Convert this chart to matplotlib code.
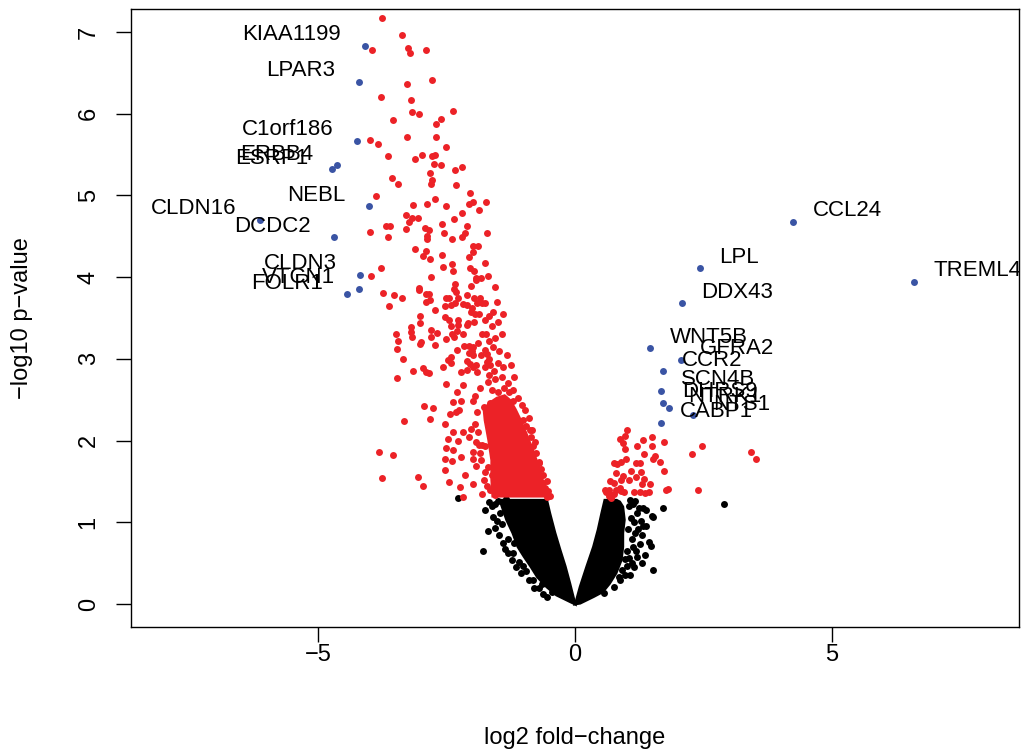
import matplotlib
matplotlib.use("Agg")
import matplotlib.pyplot as plt
import numpy as np

plt.rcParams["font.family"] = ["Liberation Sans", "DejaVu Sans"]

RED = "#ec2227"
BLUE = "#3a54a4"

# labelled genes (log2 fold-change, -log10 p-value)
genes = ["KIAA1199", "LPAR3", "C1orf186", "ERBB4", "ESRP1", "NEBL", "CLDN16",
         "DCDC2", "CLDN3", "VTCN1", "FOLR1",
         "CCL24", "TREML4", "LPL", "DDX43", "WNT5B", "GFRA2", "CCR2", "SCN4B",
         "DHRS9", "NTRK1", "CABP1", "NTS1"]
gene_lfc = [-4.09, -4.21, -4.24, -4.64, -4.72, -4.01, -6.13,
            -4.68, -4.18, -4.20, -4.44,
            4.24, 6.60, 2.43, 2.08, 1.46, 2.06, 1.71, 1.68,
            1.71, 1.82, 1.67, 2.30]
gene_p = [6.83, 6.39, 5.67, 5.37, 5.32, 4.87, 4.70,
          4.49, 4.03, 3.86, 3.79,
          4.68, 3.94, 4.11, 3.68, 3.13, 2.99, 2.85, 2.61,
          2.46, 2.40, 2.22, 2.31]

# significant genes (p < 0.05)
red_pts = np.array([
    (-3.75, 7.17), (-3.36, 6.96), (-3.24, 6.81), (-3.21, 6.74), (-2.89, 6.78), (-3.95, 6.78),
    (-3.27, 6.37), (-2.79, 6.41), (-3.78, 6.21), (-3.20, 6.17), (-3.17, 6.02), (-3.04, 6.00),
    (-2.38, 6.03), (-2.61, 5.94), (-2.70, 5.88), (-3.54, 5.93), (-3.27, 5.71), (-2.71, 5.72),
    (-2.50, 5.59), (-3.63, 5.48), (-3.12, 5.45), (-2.97, 5.50), (-2.78, 5.48), (-2.72, 5.49),
    (-2.75, 5.39), (-2.60, 5.37), (-2.33, 5.31), (-2.19, 5.35), (-2.83, 5.27), (-2.78, 5.19),
    (-2.81, 5.14), (-3.56, 5.22), (-3.44, 5.14), (-2.32, 5.13), (-2.05, 5.03), (-2.73, 4.96),
    (-2.87, 4.90), (-3.15, 4.88), (-2.50, 4.87), (-2.07, 4.90), (-1.99, 4.92), (-1.74, 4.92),
    (-1.87, 4.82), (-2.19, 4.78), (-2.35, 4.71), (-3.29, 4.76), (-3.17, 4.72), (-3.06, 4.73),
    (-3.23, 4.67), (-3.68, 4.63), (-3.60, 4.63), (-3.63, 4.49), (-3.29, 4.59), (-2.91, 4.60),
    (-2.85, 4.58), (-2.87, 4.51), (-2.87, 4.47), (-2.59, 4.65), (-2.54, 4.54), (-2.39, 4.47),
    (-2.11, 4.63), (-2.14, 4.54), (-2.20, 4.49), (-1.72, 4.54), (-3.11, 4.35), (-2.89, 4.32),
    (-2.95, 4.26), (-2.82, 4.22), (-2.59, 4.27), (-2.40, 4.16), (-2.38, 4.08), (-2.57, 4.12),
    (-2.81, 4.00), (-3.77, 4.11), (-2.06, 4.25), (-1.98, 4.31), (-1.89, 4.38), (-1.98, 4.38),
    (-1.76, 4.17), (-2.04, 4.11), (-1.97, 4.07), (-1.92, 3.99), (-1.93, 3.97), (-1.82, 3.99),
    (-1.69, 4.02), (-1.56, 3.88), (-2.02, 3.89), (-2.33, 3.92), (-2.35, 3.86), (-2.31, 3.82),
    (-3.04, 3.87), (-3.04, 3.84), (-2.90, 3.80), (-2.85, 3.80), (-2.89, 3.70), (-2.82, 3.72),
    (-3.74, 3.81), (-3.52, 3.78), (-3.36, 3.75), (-3.62, 3.65), (-2.72, 3.60), (-2.51, 3.75),
    (-2.45, 3.75), (-2.52, 3.65), (-2.41, 3.66), (-2.33, 3.68), (-2.27, 3.74), (-2.11, 3.78),
    (-1.96, 3.75), (-1.84, 3.75), (-2.17, 3.67), (-2.10, 3.66), (-2.01, 3.62), (-1.91, 3.69),
    (-1.81, 3.69), (-1.76, 3.68), (-2.02, 3.57), (-1.94, 3.55), (-1.87, 3.55), (-1.67, 3.53),
    (-1.60, 3.58), (-2.53, 3.51), (-2.46, 3.48), (-3.02, 3.52), (-3.01, 3.44), (-2.28, 3.48),
    (-2.28, 3.41), (-2.42, 3.40), (-2.11, 3.41), (-1.96, 3.45), (-2.08, 3.44), (-1.76, 3.48),
    (-3.20, 3.39), (-3.20, 3.33), (-3.18, 3.27), (-2.81, 3.35), (-2.81, 3.27), (-2.69, 3.32),
    (-2.50, 3.24), (-2.39, 3.30), (-2.36, 3.27), (-2.29, 3.34), (-2.17, 3.31), (-2.72, 3.17),
    (-3.49, 3.31), (-3.44, 3.22), (-3.46, 3.12), (-3.34, 3.00), (-3.00, 3.21), (-3.02, 3.18),
    (-1.73, 3.30), (-2.30, 3.11), (-2.15, 3.16), (-2.06, 3.16), (-1.99, 3.15), (-2.01, 3.10),
    (-2.06, 3.07), (-1.98, 3.05), (-1.75, 3.11), (-1.71, 3.06), (-1.67, 3.00), (-1.59, 3.14),
    (-2.42, 3.02), (-2.48, 2.99), (-2.41, 2.95), (-2.11, 2.98), (-2.04, 2.94), (-1.99, 2.90),
    (-1.92, 2.93), (-2.56, 2.90), (-3.15, 2.85), (-2.95, 2.89), (-3.46, 2.77), (-2.89, 2.84),
    (-2.85, 2.83), (-2.22, 2.84), (-2.10, 2.86), (-1.90, 2.84), (-1.72, 2.96), (-1.65, 2.93),
    (-3.99, 5.68), (-3.84, 5.63), (-3.88, 4.99), (-3.99, 4.55), (-3.96, 4.01),
    (-2.94, 2.42), (-2.76, 2.40), (-3.33, 2.24), (-2.82, 2.26), (-2.53, 2.20), (-3.81, 1.86),
    (-3.54, 1.82), (-3.75, 1.54), (-3.05, 1.55), (-2.96, 1.44), (-2.52, 1.64), (-2.45, 1.49),
    (-2.24, 1.43), (-2.17, 1.31), (-1.98, 1.47), (-2.14, 1.58), (-1.93, 1.69), (-2.52, 1.77),
    (-2.39, 1.75), (-2.51, 1.91), (-2.38, 1.88), (-2.22, 1.80), (-1.99, 1.78), (-2.48, 2.02),
    (-2.27, 2.00), (-2.37, 2.10), (-2.17, 2.10), (-2.06, 2.05), (-2.02, 2.14), (-1.93, 1.98),
    (-1.87, 1.95), (-1.98, 1.86), (-2.37, 2.47), (-2.22, 2.48), (-2.43, 2.33), (-2.32, 2.35),
    (-2.26, 2.38), (-2.30, 2.59), (-2.51, 2.69), (-2.17, 2.68), (-1.98, 2.49), (-0.84, 2.13),
    (-0.70, 1.73), (-0.52, 1.33),
    (-1.78, 2.41), (-1.65, 2.46), (-1.46, 2.48), (-1.20, 2.48), (-1.04, 2.44), (-1.72, 2.25),
    (-1.59, 2.09), (-1.75, 1.93), (-1.82, 1.76), (-1.69, 1.68), (-1.78, 1.52), (-1.65, 1.40),
    (-1.56, 1.33), (-0.88, 2.13), (-0.81, 1.93), (-0.71, 1.74), (-0.62, 1.48), (-0.55, 1.31),
    (-1.01, 2.25),
    (-1.95, 2.55), (-1.85, 2.65), (-1.70, 2.72), (-1.55, 2.75), (-1.42, 2.78), (-1.30, 2.70),
    (-1.20, 2.62), (-1.10, 2.52), (-1.90, 2.35), (-1.95, 2.20), (-1.88, 2.10), (-1.80, 1.95),
    (-1.85, 1.85), (-1.75, 1.62), (-1.72, 1.45), (-1.80, 1.35), (-1.62, 1.58), (-0.98, 2.38),
    (-0.90, 2.28), (-0.95, 2.18), (-0.85, 2.05), (-0.78, 1.98), (-0.75, 1.85), (-0.66, 1.65),
    (-0.62, 1.58), (-0.58, 1.42), (-0.52, 1.38), (-0.54, 1.50), (-0.48, 1.32), (-1.58, 2.85),
    (-1.50, 2.95), (-1.40, 2.90), (-1.33, 3.05), (-1.48, 3.10), (-1.55, 3.25), (-1.42, 3.30),
    (-1.50, 3.45), (-1.62, 3.40), (-1.40, 3.55), (-1.52, 3.70), (-1.25, 2.92), (-1.18, 2.78),
    (-1.28, 2.60), (-1.62, 2.62), (-1.50, 2.60), (-1.38, 2.65), (-1.68, 2.80), (-1.75, 2.90),
    (-1.82, 3.05), (-1.88, 3.20), (-1.80, 3.30), (-1.68, 3.22),
    (1.02, 2.13), (0.97, 2.06), (0.87, 2.02), (0.93, 1.97), (0.97, 1.90), (1.32, 2.01),
    (1.50, 2.04), (1.49, 1.94), (1.73, 1.98), (1.21, 1.93), (1.34, 1.84), (1.56, 1.81),
    (1.52, 1.77), (1.65, 1.74), (1.00, 1.78), (0.75, 1.72), (0.82, 1.71), (0.89, 1.74),
    (1.19, 1.72), (1.26, 1.72), (1.08, 1.63), (1.28, 1.61), (1.74, 1.63), (0.80, 1.60),
    (0.93, 1.57), (1.19, 1.55), (1.35, 1.53), (0.69, 1.50), (0.76, 1.48), (0.89, 1.52),
    (1.05, 1.52), (1.30, 1.47), (1.45, 1.47), (0.88, 1.42), (0.66, 1.39), (0.60, 1.37),
    (0.69, 1.33), (0.79, 1.39), (0.76, 1.35), (0.89, 1.38), (0.95, 1.37), (1.14, 1.37),
    (1.26, 1.37), (1.36, 1.36), (1.43, 1.37), (1.81, 1.41), (1.78, 1.40), (2.39, 1.40),
    (2.27, 1.84), (2.48, 1.93), (3.42, 1.86), (3.52, 1.78), (0.66, 1.32), (0.71, 1.30),
    (0.58, 1.39),
])

# densely packed significant genes (outline of the solid red area)
red_core_lfc = [-1.60, -0.56, -0.62, -0.72, -0.82, -0.94, -1.06, -1.16, -1.26,
                -1.37, -1.52, -1.66, -1.77, -1.75, -1.68, -1.62, -1.62]
red_core_p = [1.32, 1.32, 1.49, 1.70, 1.88, 2.07, 2.25, 2.38, 2.49,
              2.55, 2.52, 2.46, 2.38, 2.25, 2.01, 1.76, 1.52]

# non-significant genes: solid V-shaped cloud outlines
black_left_lfc = [-1.46, -1.33, -1.21, -1.11, -0.99, -0.86, -0.73, -0.55, -0.36,
                  -0.10, 0.0, -0.02, -0.10, -0.19, -0.29, -0.39, -0.49, -0.55]
black_left_p = [1.27, 1.03, 0.87, 0.70, 0.58, 0.46, 0.33, 0.21, 0.11,
                0.03, 0.0, 0.05, 0.25, 0.46, 0.66, 0.87, 1.11, 1.27]
black_right_lfc = [0.58, 0.81, 0.87, 0.93, 0.96, 0.93, 0.93, 0.90, 0.80, 0.67,
                   0.54, 0.36, 0.10, 0.0, 0.03, 0.10, 0.23, 0.36, 0.45, 0.52]
black_right_p = [1.27, 1.27, 1.25, 1.19, 1.03, 0.87, 0.70, 0.54, 0.38, 0.25,
                 0.15, 0.09, 0.01, 0.0, 0.05, 0.21, 0.46, 0.70, 0.91, 1.11]

# non-significant genes away from the dense cloud
black_pts = np.array([
    (-2.28, 1.30), (-1.79, 0.65), (-1.75, 1.15), (-1.59, 1.07), (-1.56, 0.93), (-1.69, 0.89),
    (-1.36, 0.67), (-1.23, 0.54), (-1.20, 0.62), (-1.01, 0.46), (-0.81, 0.29), (-0.71, 0.19),
    (-0.55, 0.09), (-1.55, 1.22), (-1.45, 1.12), (-1.42, 0.98), (-1.30, 0.80), (-1.18, 0.75),
    (-1.08, 0.52), (-0.95, 0.40), (-0.64, 0.25), (-0.45, 0.15), (-1.62, 1.20), (-1.52, 1.02),
    (-1.47, 0.85), (-1.40, 0.75), (-1.30, 0.62), (-1.15, 0.45), (-1.05, 0.38), (-0.90, 0.30),
    (-0.80, 0.20), (-0.62, 0.12), (-1.68, 1.25), (-1.50, 1.26), (-1.35, 1.28),
    (2.90, 1.23), (1.71, 1.18), (1.51, 0.42), (1.43, 0.76), (1.47, 0.71), (1.33, 0.95),
    (1.39, 0.95), (1.49, 1.08), (1.39, 1.15), (1.33, 1.17), (1.10, 0.50), (1.07, 1.27),
    (1.17, 1.26), (1.20, 1.11), (1.52, 1.07), (1.17, 0.87), (1.26, 0.74), (1.20, 0.58),
    (1.01, 0.46), (1.07, 0.36), (0.88, 0.29), (0.75, 0.21), (0.56, 0.14), (1.05, 1.20),
    (1.08, 1.05), (1.04, 0.92), (1.10, 0.80), (1.02, 0.65), (0.98, 0.55), (0.92, 0.42),
    (1.12, 1.22), (1.25, 1.18), (1.15, 1.00), (1.28, 1.02), (1.22, 0.92), (1.12, 0.70),
    (1.30, 0.85), (1.18, 0.65), (1.05, 0.56), (1.15, 0.45), (0.98, 0.35), (0.85, 0.33),
    (1.36, 0.60), (1.30, 0.50),
])

fig = plt.figure(figsize=(10.23, 7.51), dpi=100)
ax = fig.add_axes([130.9 / 1023, 1 - 626.9 / 751, 888.2 / 1023, 617.7 / 751])

dot = 25
ax.fill(black_left_lfc, black_left_p, color="black", lw=2, zorder=1)
ax.fill(black_right_lfc, black_right_p, color="black", lw=2, zorder=1)
ax.scatter(black_pts[:, 0], black_pts[:, 1], s=dot, color="black", lw=0, zorder=1)
ax.fill(red_core_lfc, red_core_p, color=RED, lw=2, zorder=2)
ax.scatter(red_pts[:, 0], red_pts[:, 1], s=dot, color=RED, lw=0, zorder=2)
ax.scatter(gene_lfc, gene_p, s=dot, color=BLUE, lw=0, zorder=3)

for name, x, y in zip(genes, gene_lfc, gene_p):
    if x < 0:
        off, ha = (-17, 8), "right"
    else:
        off, ha = (14, 8), "left"
    ax.annotate(name, (x, y), xytext=off, textcoords="offset points",
                ha=ha, va="center", fontsize=16, annotation_clip=False,
                clip_on=True, zorder=4)

ax.set_xlim(-8.64, 8.64)
ax.set_ylim(-0.28, 7.28)
ax.set_xticks([-5, 0, 5])
ax.set_yticks(range(8))
ax.tick_params(length=10.5, width=1.0, labelsize=17)
ax.tick_params(axis="x", pad=2)
ax.tick_params(axis="y", pad=12)
for lab in ax.get_yticklabels():
    lab.set_rotation(90)
    lab.set_va("center")
for sp in ax.spines.values():
    sp.set_linewidth(1.0)

fig.text(575 / 1023, 1 - 738 / 751, "log2 fold\u2212change", ha="center",
         va="center", fontsize=17)
fig.text(22 / 1023, 1 - 318 / 751, "\u2212log10 p\u2212value", ha="center",
         va="center", rotation=90, fontsize=17)

fig.savefig("out.png", dpi=100)
